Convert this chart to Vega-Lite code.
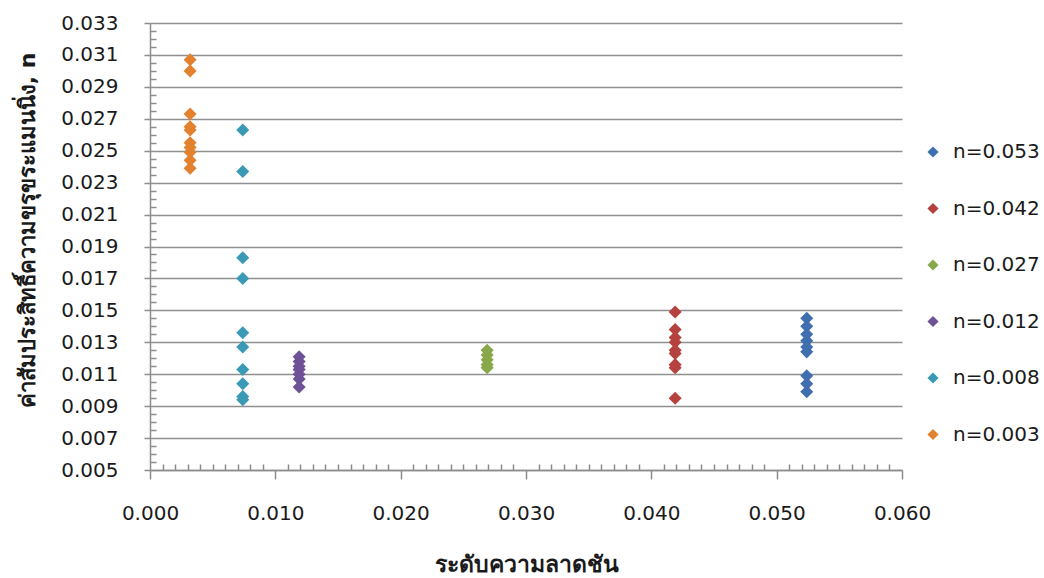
{
  "$schema": "https://vega.github.io/schema/vega-lite/v6.json",
  "autosize": {"type": "none"},
  "width": 752,
  "height": 447,
  "padding": {"left": 150, "top": 23, "right": 142, "bottom": 108},
  "background": "white",
  "config": {
    "view": {"stroke": null},
    "font": "DejaVu Sans",
    "axis": {
      "domainColor": "#8C8C8C",
      "domainWidth": 1.5,
      "tickColor": "#8C8C8C",
      "tickWidth": 1.5,
      "gridColor": "#8F8F8F",
      "gridWidth": 1.5,
      "labelFont": "DejaVu Sans",
      "labelFontSize": 20,
      "labelColor": "#1A1A1A",
      "titleFont": "DejaVu Sans",
      "titleFontWeight": "bold",
      "titleColor": "#1A1A1A",
      "labelOverlap": false
    }
  },
  "data": {
    "values": [
      {"slope": 0.0032, "n": 0.0307, "series": "n=0.003"},
      {"slope": 0.0032, "n": 0.0300, "series": "n=0.003"},
      {"slope": 0.0032, "n": 0.0273, "series": "n=0.003"},
      {"slope": 0.0032, "n": 0.0265, "series": "n=0.003"},
      {"slope": 0.0032, "n": 0.0263, "series": "n=0.003"},
      {"slope": 0.0032, "n": 0.0255, "series": "n=0.003"},
      {"slope": 0.0032, "n": 0.0252, "series": "n=0.003"},
      {"slope": 0.0032, "n": 0.0249, "series": "n=0.003"},
      {"slope": 0.0032, "n": 0.0244, "series": "n=0.003"},
      {"slope": 0.0032, "n": 0.0239, "series": "n=0.003"},

      {"slope": 0.0074, "n": 0.0263, "series": "n=0.008"},
      {"slope": 0.0074, "n": 0.0237, "series": "n=0.008"},
      {"slope": 0.0074, "n": 0.0183, "series": "n=0.008"},
      {"slope": 0.0074, "n": 0.0170, "series": "n=0.008"},
      {"slope": 0.0074, "n": 0.0136, "series": "n=0.008"},
      {"slope": 0.0074, "n": 0.0127, "series": "n=0.008"},
      {"slope": 0.0074, "n": 0.0113, "series": "n=0.008"},
      {"slope": 0.0074, "n": 0.0104, "series": "n=0.008"},
      {"slope": 0.0074, "n": 0.0096, "series": "n=0.008"},
      {"slope": 0.0074, "n": 0.0094, "series": "n=0.008"},

      {"slope": 0.0119, "n": 0.0121, "series": "n=0.012"},
      {"slope": 0.0119, "n": 0.0118, "series": "n=0.012"},
      {"slope": 0.0119, "n": 0.0115, "series": "n=0.012"},
      {"slope": 0.0119, "n": 0.0113, "series": "n=0.012"},
      {"slope": 0.0119, "n": 0.0110, "series": "n=0.012"},
      {"slope": 0.0119, "n": 0.0107, "series": "n=0.012"},
      {"slope": 0.0119, "n": 0.0102, "series": "n=0.012"},

      {"slope": 0.0269, "n": 0.0125, "series": "n=0.027"},
      {"slope": 0.0269, "n": 0.0122, "series": "n=0.027"},
      {"slope": 0.0269, "n": 0.0119, "series": "n=0.027"},
      {"slope": 0.0269, "n": 0.0116, "series": "n=0.027"},
      {"slope": 0.0269, "n": 0.0114, "series": "n=0.027"},

      {"slope": 0.0419, "n": 0.0149, "series": "n=0.042"},
      {"slope": 0.0419, "n": 0.0138, "series": "n=0.042"},
      {"slope": 0.0419, "n": 0.0133, "series": "n=0.042"},
      {"slope": 0.0419, "n": 0.0130, "series": "n=0.042"},
      {"slope": 0.0419, "n": 0.0125, "series": "n=0.042"},
      {"slope": 0.0419, "n": 0.0123, "series": "n=0.042"},
      {"slope": 0.0419, "n": 0.0116, "series": "n=0.042"},
      {"slope": 0.0419, "n": 0.0114, "series": "n=0.042"},
      {"slope": 0.0419, "n": 0.0095, "series": "n=0.042"},

      {"slope": 0.0524, "n": 0.0145, "series": "n=0.053"},
      {"slope": 0.0524, "n": 0.0140, "series": "n=0.053"},
      {"slope": 0.0524, "n": 0.0135, "series": "n=0.053"},
      {"slope": 0.0524, "n": 0.0131, "series": "n=0.053"},
      {"slope": 0.0524, "n": 0.0127, "series": "n=0.053"},
      {"slope": 0.0524, "n": 0.0124, "series": "n=0.053"},
      {"slope": 0.0524, "n": 0.0109, "series": "n=0.053"},
      {"slope": 0.0524, "n": 0.0104, "series": "n=0.053"},
      {"slope": 0.0524, "n": 0.0099, "series": "n=0.053"}
    ]
  },
  "mark": {"type": "point", "shape": "diamond", "filled": true, "opacity": 1, "size": 170},
  "encoding": {
    "x": {
      "field": "slope",
      "type": "quantitative",
      "scale": {"domain": [0, 0.06], "nice": false, "zero": false},
      "axis": {
        "title": "ระดับความลาดชัน",
        "titleFontSize": 23,
        "titlePadding": 30,
        "grid": false,
        "values": [0, 0.001, 0.002, 0.003, 0.004, 0.005, 0.006, 0.007, 0.008, 0.009, 0.01, 0.011, 0.012, 0.013, 0.014, 0.015, 0.016, 0.017, 0.018, 0.019, 0.02, 0.021, 0.022, 0.023, 0.024, 0.025, 0.026, 0.027, 0.028, 0.029, 0.03, 0.031, 0.032, 0.033, 0.034, 0.035, 0.036, 0.037, 0.038, 0.039, 0.04, 0.041, 0.042, 0.043, 0.044, 0.045, 0.046, 0.047, 0.048, 0.049, 0.05, 0.051, 0.052, 0.053, 0.054, 0.055, 0.056, 0.057, 0.058, 0.059, 0.06],
        "labelExpr": "round(datum.value * 1000) % 10 == 0 ? format(datum.value, '.3f') : ''",
        "labelFlush": false,
        "labelPadding": 24,
        "tickSize": {"condition": {"test": "round(datum.value * 1000) % 10 == 0", "value": 9}, "value": -6}
      }
    },
    "y": {
      "field": "n",
      "type": "quantitative",
      "scale": {"domain": [0.005, 0.033], "nice": false, "zero": false},
      "axis": {
        "title": "ค่าสัมประสิทธิ์ความขรุขระแมนนิ่ง, n",
        "titleFontSize": 22,
        "titlePadding": 21,
        "titleY": 207,
        "values": [0.005, 0.0055, 0.006, 0.0065, 0.007, 0.0075, 0.008, 0.0085, 0.009, 0.0095, 0.01, 0.0105, 0.011, 0.0115, 0.012, 0.0125, 0.013, 0.0135, 0.014, 0.0145, 0.015, 0.0155, 0.016, 0.0165, 0.017, 0.0175, 0.018, 0.0185, 0.019, 0.0195, 0.02, 0.0205, 0.021, 0.0215, 0.022, 0.0225, 0.023, 0.0235, 0.024, 0.0245, 0.025, 0.0255, 0.026, 0.0265, 0.027, 0.0275, 0.028, 0.0285, 0.029, 0.0295, 0.03, 0.0305, 0.031, 0.0315, 0.032, 0.0325, 0.033],
        "labelExpr": "round(datum.value * 2000) % 4 == 2 ? format(datum.value, '.3f') : ''",
        "labelPadding": 26,
        "tickSize": {"condition": {"test": "round(datum.value * 2000) % 4 == 2", "value": 6}, "value": -6},
        "gridOpacity": {"condition": {"test": "round(datum.value * 2000) % 4 == 2", "value": 1}, "value": 0}
      }
    },
    "color": {
      "field": "series",
      "type": "nominal",
      "scale": {
        "domain": ["n=0.053", "n=0.042", "n=0.027", "n=0.012", "n=0.008", "n=0.003"],
        "range": ["#3F6FAE", "#B5423F", "#88A84A", "#6F5197", "#3A9AB5", "#E2822F"]
      },
      "legend": {
        "title": null,
        "orient": "none",
        "legendX": 773,
        "legendY": 119,
        "direction": "vertical",
        "symbolType": "diamond",
        "symbolSize": 125,
        "symbolStrokeWidth": 0,
        "labelFont": "DejaVu Sans",
        "labelFontSize": 20,
        "labelColor": "#1A1A1A",
        "labelOffset": 10,
        "rowPadding": 36.5,
        "padding": 0
      }
    }
  }
}
